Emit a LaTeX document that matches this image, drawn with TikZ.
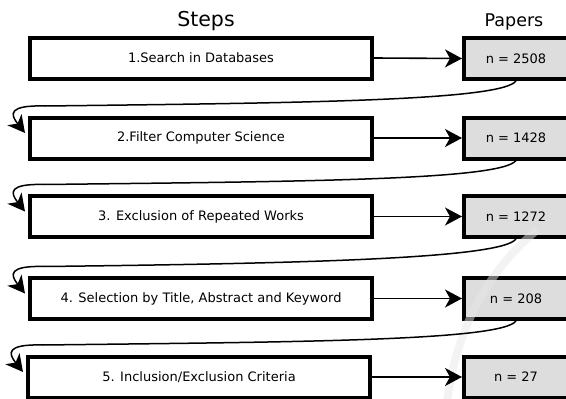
\documentclass[tikz,border=0pt]{standalone}
\usepackage{fontspec}
\setmainfont{DejaVu Sans}
\usetikzlibrary{arrows.meta,calc}
\definecolor{paperfill}{RGB}{221,221,221}
\definecolor{stripe}{RGB}{232,232,232}

\begin{document}
\begin{tikzpicture}[x=1pt,y=-1pt,
  stepbox/.style={draw, line width=4pt, minimum width=342pt, minimum height=41pt,
    inner sep=0pt, font=\fontsize{13}{15}\selectfont},
  countbox/.style={draw, fill=paperfill, line width=4pt, minimum width=104pt,
    minimum height=41pt, inner sep=0pt, font=\fontsize{13}{15}\selectfont},
  head/.style={font=\fontsize{#1}{#1}\selectfont, inner sep=0pt},
  flow/.style={line width=1.6pt, -{Stealth[length=17pt,width=18pt,inset=5pt]}},
  backloop/.style={line width=1.5pt, -{Stealth[length=17pt,width=18pt,inset=5pt]}},
]
\useasboundingbox (0,0) rectangle (566,399);

% column headings
\node[head=20.5] (steps) at (206,21) {Steps};
\node[head=17.5] (papers) at (514,22) {Papers};

% process steps
\node[stepbox] (s1) at (201,58)    {1.Search in Databases};
\node[stepbox] (s2) at (201,138)   {2.Filter Computer Science};
\node[stepbox] (s3) at (201,216.5) {3. Exclusion of Repeated Works};
\node[stepbox] (s4) at (201,298.5) {4. Selection by Title, Abstract and Keyword};
\node[stepbox] (s5) at (199,377)   {5. Inclusion/Exclusion Criteria};

% paper counts
\node[countbox] (p1) at (516,58.5)  {n = 2508};
\node[countbox] (p2) at (516,138)   {n = 1428};
\node[countbox] (p3) at (516,216.5) {n = 1272};
\node[countbox] (p4) at (516,298.5) {n = 208};
\node[countbox] (p5) at (516,377)   {n = 27};

% faint translucent swoosh over the right-hand column
\draw[stripe, opacity=0.5, line width=8pt]
  (537,230) .. controls (495,265) and (458,318) .. (447,402);

% step -> count
\foreach \i in {1,...,5}{
  \draw[flow] (s\i.east) -- (p\i.west);
}

% count -> next step
\foreach \i/\j in {1/2,2/3,3/4,4/5}{
  \draw[backloop] (p\i.south)
    .. controls +(-15,20) and +(250,-3) .. ($(s\j.west)+(17,-32)$)
    .. controls +(-37,-1) and +(-15,-19) .. ($(s\j.west)+(-3,-5)$);
}
\end{tikzpicture}
\end{document}
